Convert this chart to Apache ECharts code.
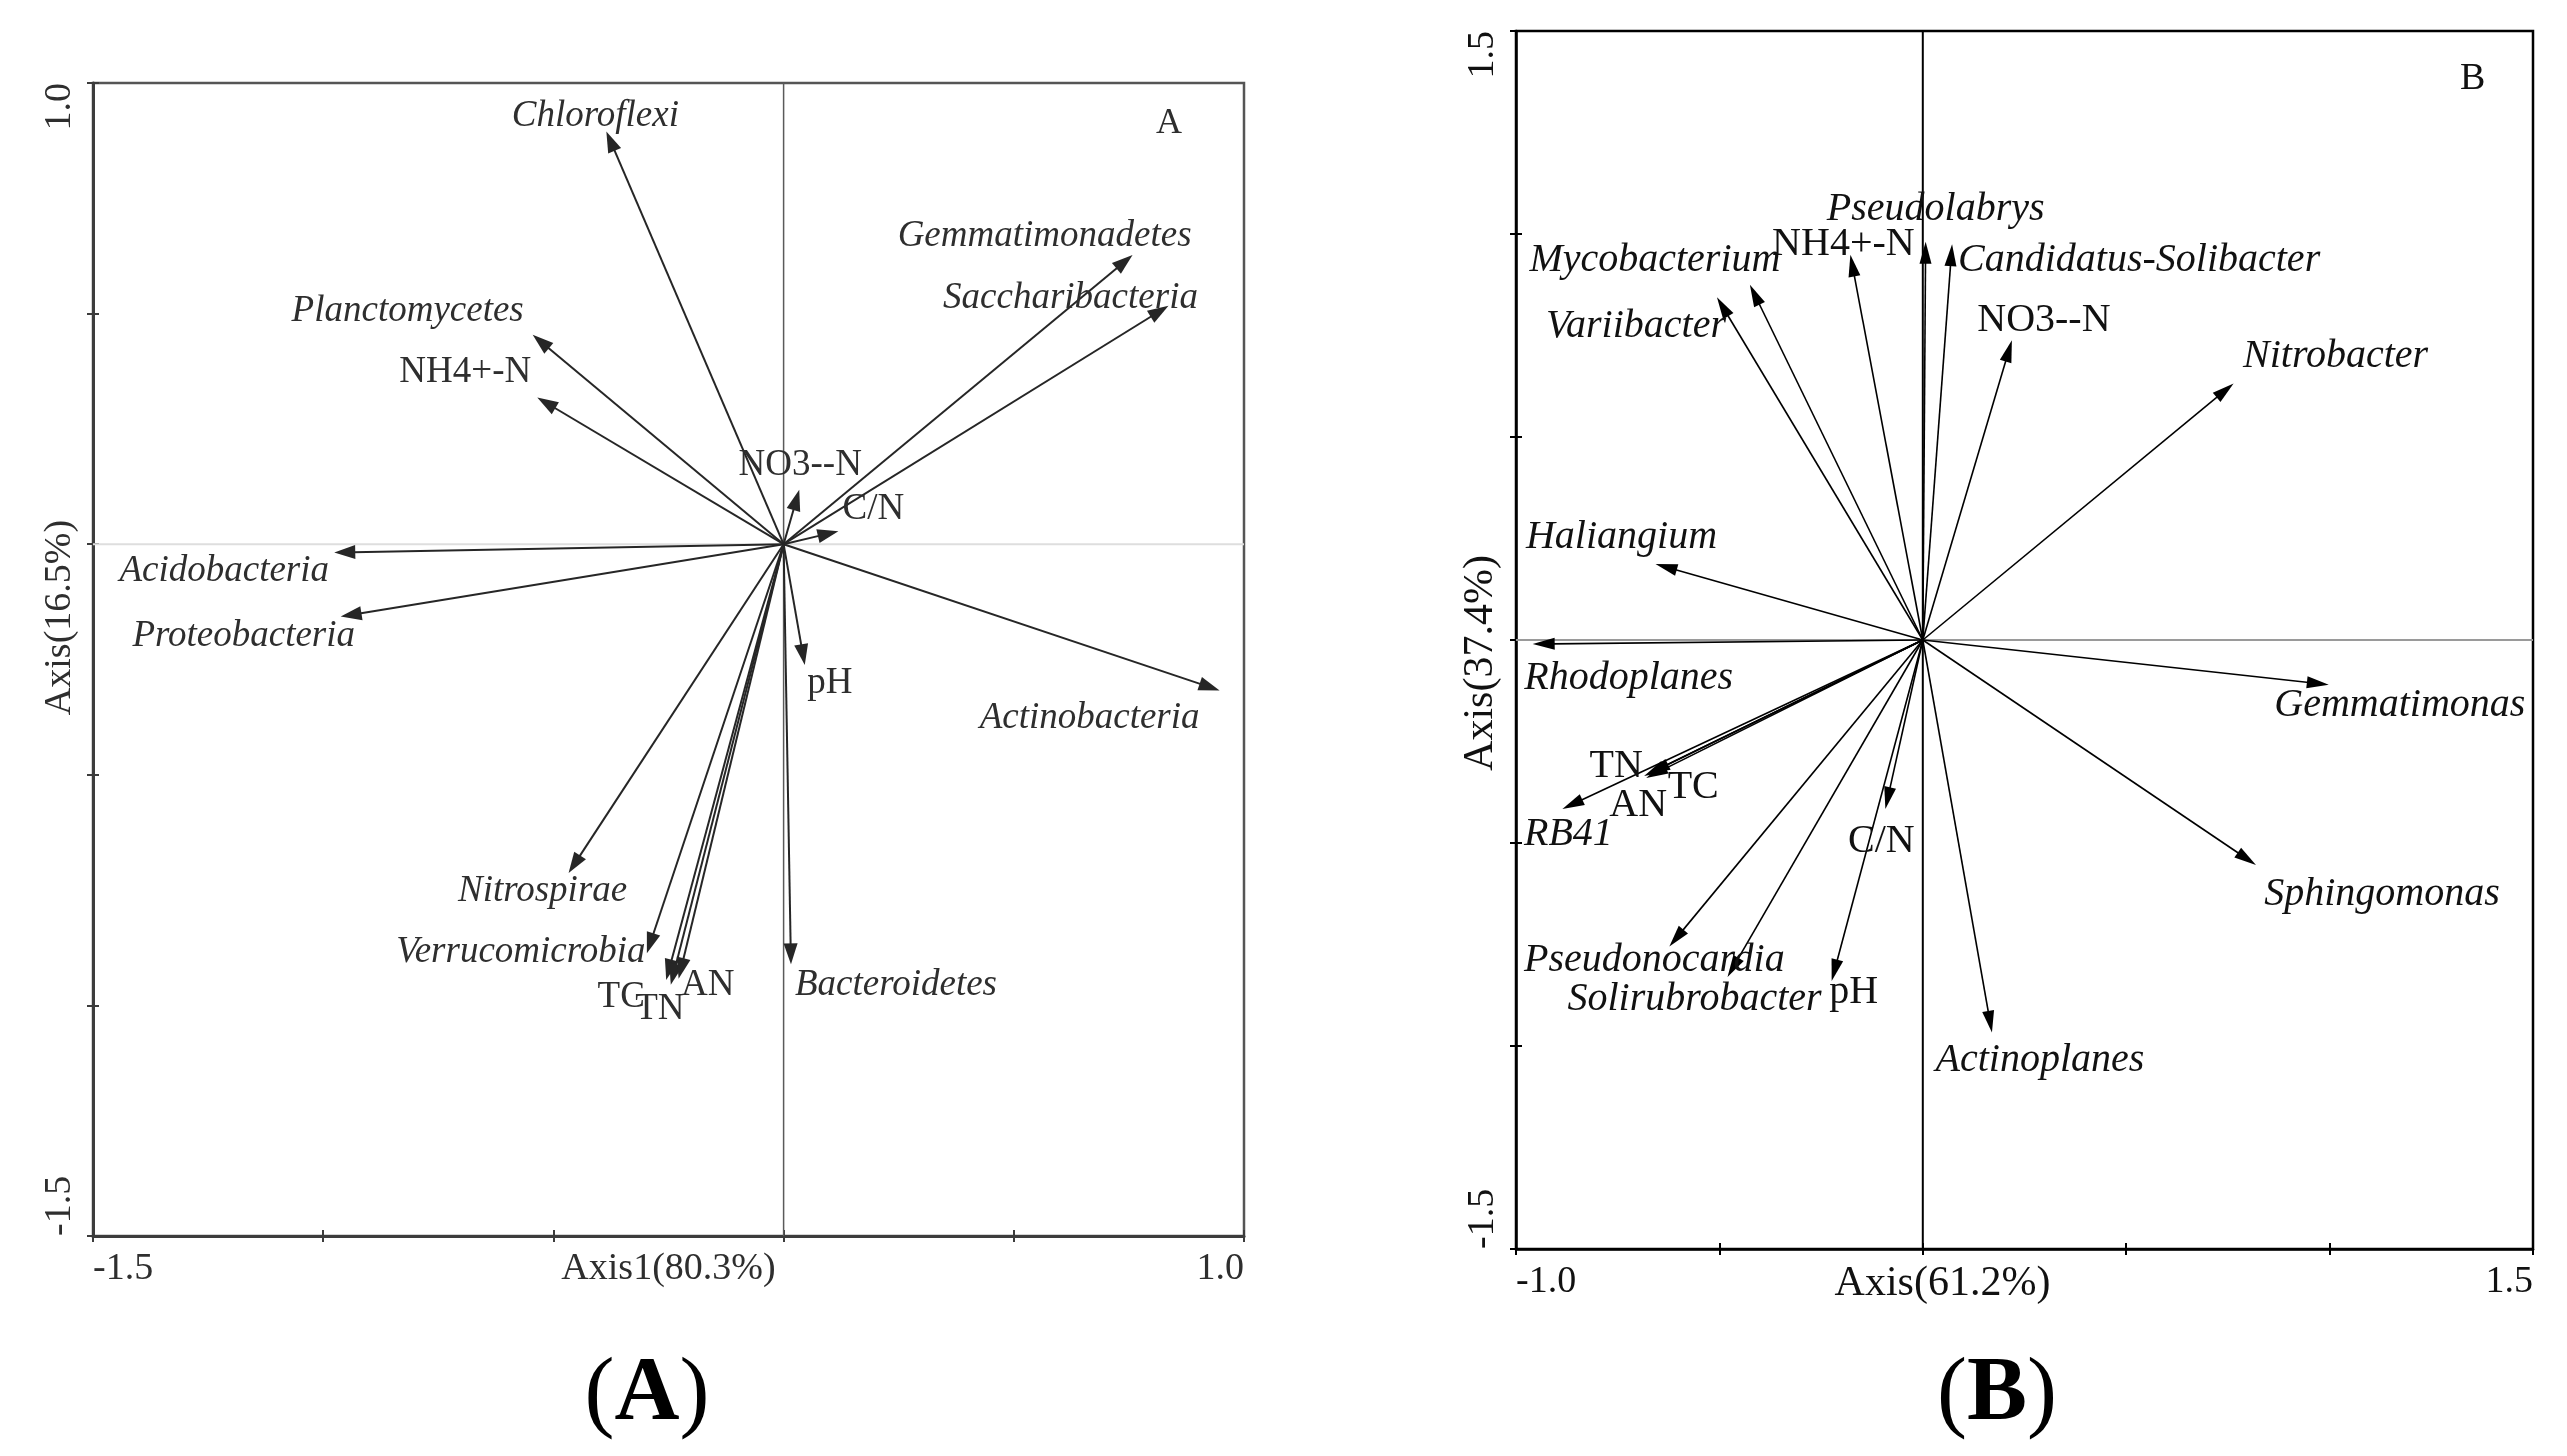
<!DOCTYPE html>
<html><head><meta charset="utf-8">
<script src="https://cdn.jsdelivr.net/npm/echarts@6/dist/echarts.min.js"></script>
<style>html,body{margin:0;padding:0;background:#fff}#c{width:2567px;height:1456px}</style>
</head><body><div id="c"></div><script>
// ---------------- DATA : panel A ----------------
const namesA = ['Chloroflexi','Planctomycetes','NH4+-N','Acidobacteria','Proteobacteria','NO3--N','C/N',
  'Gemmatimonadetes','Saccharibacteria','Actinobacteria','pH','Bacteroidetes','Nitrospirae','Verrucomicrobia','TC','TN','AN'];
const axis1A = [-0.385,-0.545,-0.535,-0.976,-0.962,0.034,0.119,0.758,0.836,0.947,0.046,0.016,-0.467,-0.297,-0.255,-0.245,-0.228];
const axis2A = [0.895,0.454,0.318,-0.018,-0.157,0.118,0.028,0.627,0.517,-0.317,-0.262,-0.911,-0.713,-0.887,-0.945,-0.955,-0.942];
const kindA  = ['taxon','taxon','env','taxon','taxon','env','env','taxon','taxon','taxon','env','taxon','taxon','taxon','env','env','env'];
const xRangeA = [-1.5, 1.0];
const yRangeA = [-1.5, 1.0];
const xNameA = 'Axis1(80.3%)';
const yNameA = 'Axis(16.5%)';

// ---------------- DATA : panel B ----------------
const namesB = ['Mycobacterium','Variibacter','NH4+-N','Pseudolabrys','Candidatus-Solibacter','NO3--N','Nitrobacter',
  'Haliangium','Rhodoplanes','Gemmatimonas','Sphingomonas','TN','AN','TC','RB41','C/N','Pseudonocardia','Solirubrobacter','pH','Actinoplanes'];
const axis1B = [-0.425,-0.506,-0.178,0.007,0.072,0.219,0.764,-0.657,-0.959,0.998,0.819,-0.685,-0.680,-0.675,-0.886,-0.092,-0.623,-0.480,-0.224,0.170];
const axis2B = [0.875,0.844,0.949,0.981,0.975,0.738,0.632,0.187,-0.010,-0.110,-0.554,-0.335,-0.340,-0.330,-0.416,-0.416,-0.755,-0.830,-0.840,-0.967];
const kindB  = ['taxon','taxon','env','taxon','taxon','env','taxon','taxon','taxon','taxon','taxon','env','env','env','taxon','env','taxon','taxon','env','taxon'];
const xRangeB = [-1.0, 1.5];
const yRangeB = [-1.5, 1.5];
const xNameB = 'Axis(61.2%)';
const yNameB = 'Axis(37.4%)';

const tickStep = 0.5;

// ---------------- LAYOUT (label offsets in px from arrow tip) ----------------
const labelOffA = {
  'Chloroflexi':[-11,-15],'Planctomycetes':[-125,-24],'NH4+-N':[-72,-25],'Acidobacteria':[-110,19],
  'Proteobacteria':[-97,20],'NO3--N':[1,-24],'C/N':[35,-22],'Gemmatimonadetes':[-88,-19],
  'Saccharibacteria':[-98,-7],'Actinobacteria':[-130,28],'pH':[25,18],'Bacteroidetes':[105,21],
  'Nitrospirae':[-26,18],'Verrucomicrobia':[-126,-1],'TC':[-45,17],'TN':[-11,25],'AN':[29,7]
};
const labelOffB = {
  'Mycobacterium':[-95,-24],'Variibacter':[-81,29],'NH4+-N':[-7,-10],'Pseudolabrys':[10,-32],
  'Candidatus-Solibacter':[187,16],'NO3--N':[32,-20],'Nitrobacter':[102,-27],'Haliangium':[-34,-27],
  'Rhodoplanes':[96,34],'Gemmatimonas':[71,21],'Sphingomonas':[126,30],'TN':[-28,-10],'AN':[-8,27],
  'TC':[45,14],'RB41':[6,26],'C/N':[-4,33],'Pseudonocardia':[-15,14],'Solirubrobacter':[-33,23],
  'pH':[22,11],'Actinoplanes':[48,28]
};

const FONT = '"Liberation Serif","Times New Roman",serif';

function isEnd(v, r){ return Math.abs(v - r[0]) < 1e-9 || Math.abs(v - r[1]) < 1e-9; }

function axesFor(gridIndex, range, isX, st) {
  const main = {
    type:'value', gridIndex, min:range[0], max:range[1], interval:tickStep,
    position: isX ? 'bottom' : 'left',
    axisLine:{show:true, onZero:false, lineStyle:{color:st.axisColor, width:st.axisWidth}},
    axisTick:{show:true, length:6, lineStyle:{color:st.axisColor, width:2}},
    splitLine:{show:false},
    axisLabel:{
      show:true, showMinLabel:true, showMaxLabel:true, hideOverlap:false,
      margin:14, color:st.textColor, fontFamily:FONT, fontSize:st.tickFont,
      rotate: isX ? 0 : 90,
      alignMinLabel:'left', alignMaxLabel:'right',
      formatter: v => isEnd(v, range) ? v.toFixed(1) : ''
    },
    name: isX ? st.xName : st.yName,
    nameLocation:'middle',
    nameGap: st.nameGap,
    nameMoveOverlap:false,
    nameTextStyle:{color:st.textColor, fontFamily:FONT, fontSize:st.nameFont,
      padding: isX ? st.xNamePad : st.yNamePad}
  };
  const inner = {
    type:'value', gridIndex, min:range[0], max:range[1], interval:tickStep,
    position: isX ? 'bottom' : 'left',
    axisLine:{show:false, onZero:false},
    axisTick:{show:true, inside:true, length:6, lineStyle:{color:st.axisColor, width:2}},
    axisLabel:{show:false}, splitLine:{show:false}
  };
  return [main, inner];
}

function arrowSeries(xi, yi, names, xs, ys, kinds, offs, st) {
  return {
    type:'custom', coordinateSystem:'cartesian2d', xAxisIndex:xi, yAxisIndex:yi,
    silent:true, clip:false, z:3,
    data: xs.map((x,i)=>[x, ys[i], i]),
    renderItem(params, api) {
      const i = api.value(2);
      const o = api.coord([0,0]);
      const p = api.coord([api.value(0), api.value(1)]);
      const dx = p[0]-o[0], dy = p[1]-o[1];
      const len = Math.hypot(dx, dy) || 1;
      const ux = dx/len, uy = dy/len;
      const L = st.headLen, W = st.headW/2;
      const b = [p[0]-ux*L, p[1]-uy*L];
      const l = [b[0]-uy*W, b[1]+ux*W], r = [b[0]+uy*W, b[1]-ux*W];
      const off = offs[names[i]] || [0,0];
      return {type:'group', children:[
        {type:'line', shape:{x1:o[0], y1:o[1], x2:b[0]+ux*2, y2:b[1]+uy*2},
          style:{stroke:st.arrowColor, lineWidth:st.lineW}},
        {type:'polygon', shape:{points:[p, l, r]}, style:{fill:st.arrowColor}},
        {type:'text', x:p[0]+off[0], y:p[1]+off[1], z2:10,
          style:{text:names[i], fill:st.textColor, fontFamily:FONT, fontSize:st.labelFont,
            fontStyle: kinds[i]==='taxon' ? 'italic' : 'normal',
            align:'center', verticalAlign:'middle'}}
      ]};
    }
  };
}

function zeroLines(xi, yi, xr, yr, st) {
  return [
    {type:'line', xAxisIndex:xi, yAxisIndex:yi, data:[[0,yr[0]],[0,yr[1]]], showSymbol:false, silent:true, z:1,
      lineStyle:{color:st.vColor, width:st.vWidth}},
    {type:'line', xAxisIndex:xi, yAxisIndex:yi, data:[[xr[0],0],[xr[1],0]], showSymbol:false, silent:true, z:1,
      lineStyle:{color:st.hColor, width:st.hWidth}}
  ];
}

const stA = {axisColor:'#3c3c3c', axisWidth:3, textColor:'#2e2e2e', tickFont:38, nameFont:38, nameGap:14,
  xName:xNameA, yName:yNameA, xNamePad:[0,0,0,0], yNamePad:[0,0,0,84],
  arrowColor:'#262626', lineW:2, headLen:21, headW:14, labelFont:37,
  vColor:'#5a5a5a', vWidth:1.5, hColor:'#dedede', hWidth:2};
const stB = {axisColor:'#000', axisWidth:2.5, textColor:'#111', tickFont:38, nameFont:42, nameGap:14,
  xName:xNameB, yName:yNameB, xNamePad:[0,164,0,0], yNamePad:[0,46,0,0],
  arrowColor:'#000', lineW:1.6, headLen:22, headW:12, labelFont:40,
  vColor:'#000', vWidth:2, hColor:'#9a9a9a', hWidth:2};

const [axA, axAi] = axesFor(0, xRangeA, true, stA);
const [ayA, ayAi] = axesFor(0, yRangeA, false, stA);
const [axB, axBi] = axesFor(1, xRangeB, true, stB);
const [ayB, ayBi] = axesFor(1, yRangeB, false, stB);

const option = {
  backgroundColor:'#fff',
  animation:false,
  grid:[
    {left:93, top:83, width:1151, height:1153, show:true, borderColor:'#555', borderWidth:2.5, backgroundColor:'transparent'},
    {left:1516, top:31, width:1017, height:1218, show:true, borderColor:'#000', borderWidth:2.5, backgroundColor:'transparent'}
  ],
  xAxis:[axA, axAi, axB, axBi],
  yAxis:[ayA, ayAi, ayB, ayBi],
  series:[
    ...zeroLines(0, 0, xRangeA, yRangeA, stA),
    ...zeroLines(2, 2, xRangeB, yRangeB, stB),
    arrowSeries(0, 0, namesA, axis1A, axis2A, kindA, labelOffA, stA),
    arrowSeries(2, 2, namesB, axis1B, axis2B, kindB, labelOffB, stB)
  ],
  graphic:[
    {type:'text', left:1156, top:106, style:{text:'A', fontFamily:FONT, fontSize:36, fill:'#2e2e2e'}},
    {type:'text', left:2460, top:60, style:{text:'B', fontFamily:FONT, fontSize:38, fill:'#111'}},
    {type:'text', x:647, y:1396, style:{text:'{p|(}{b|A}{p|)}', align:'center', verticalAlign:'middle',
      rich:{p:{fontFamily:FONT, fontSize:90, fill:'#000'}, b:{fontFamily:FONT, fontSize:90, fontWeight:'bold', fill:'#000'}}}},
    {type:'text', x:1997, y:1396, style:{text:'{p|(}{b|B}{p|)}', align:'center', verticalAlign:'middle',
      rich:{p:{fontFamily:FONT, fontSize:90, fill:'#000'}, b:{fontFamily:FONT, fontSize:90, fontWeight:'bold', fill:'#000'}}}}
  ]
};
const chart = echarts.init(document.getElementById('c'), null, {renderer:'canvas'});
chart.setOption(option);
</script></body></html>
